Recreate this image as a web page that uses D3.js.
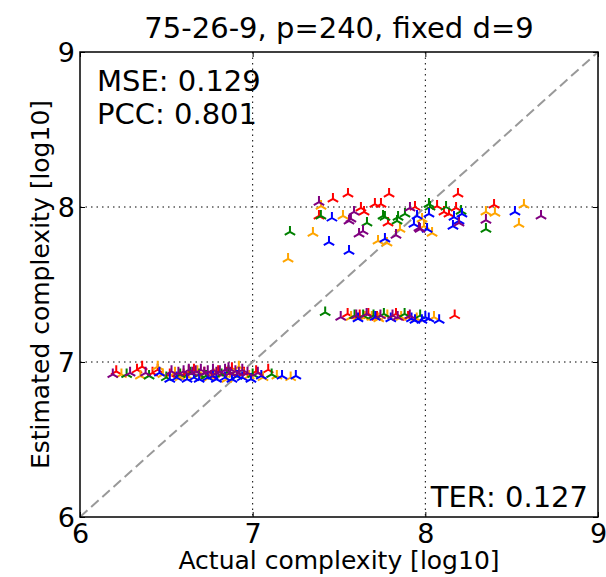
<!DOCTYPE html>
<html>
<head>
<meta charset="utf-8">
<script src="https://cdn.jsdelivr.net/npm/d3@7"></script>
<style>
  body { margin: 0; background: #fff; }
  text { font-family: "DejaVu Sans", sans-serif; fill: #000; }
</style>
</head>
<body>
<svg id="chart"></svg>
<script>
// chart texts
const title = "75-26-9, p=240, fixed d=9";
const xLabel = "Actual complexity [log10]";
const yLabel = "Estimated complexity [log10]";
const xTicks = [6, 7, 8, 9];
const yTicks = [6, 7, 8, 9];
const statsTopLeft = ["MSE: 0.129", "PCC: 0.801"];
const statBottomRight = "TER: 0.127";

// points per colour, [actual, estimated]
const redPoints = [
  [6.21, 6.94], [6.33, 6.95], [6.36, 6.97], [6.42, 6.93], [6.52, 6.92], [6.60, 6.92], [6.66, 6.95],
  [6.72, 6.93], [6.76, 6.91], [6.80, 6.94], [6.88, 6.96], [6.95, 6.93], [7.02, 6.94], [7.09, 6.95],
  [6.45, 6.95], [6.63, 6.94], [6.85, 6.93],
  [7.55, 7.31], [7.62, 7.30], [7.67, 7.31], [7.72, 7.29], [7.83, 7.31], [7.90, 7.29], [8.17, 7.30],
  [7.465, 8.052], [7.552, 8.084], [7.790, 8.084], [8.189, 8.084], [8.398, 8.013], [7.384, 7.942],
  [7.627, 7.994], [7.645, 7.968], [7.708, 8.019], [7.743, 8.019], [7.784, 7.897], [7.940, 8.000],
  [8.068, 8.006], [8.108, 7.968], [8.137, 7.955], [8.178, 7.994]
];
const orangePoints = [
  [6.24, 6.92], [6.35, 6.91], [6.45, 6.97], [6.48, 6.92], [6.55, 6.93], [6.62, 6.91], [6.68, 6.94],
  [6.70, 6.90], [6.78, 6.92], [6.85, 6.89], [6.92, 6.97], [6.98, 6.91], [7.06, 6.90], [7.14, 6.91],
  [7.22, 6.90], [6.58, 6.90], [6.75, 6.90], [6.89, 6.92],
  [7.57, 7.29], [7.65, 7.29], [7.69, 7.29], [7.73, 7.28], [7.78, 7.30], [7.86, 7.29], [7.95, 7.28],
  [8.05, 7.29],
  [7.396, 8.006], [8.571, 8.013], [7.523, 7.942], [7.853, 7.858], [7.981, 7.923], [7.992, 7.877],
  [8.039, 7.832], [7.349, 7.832], [7.726, 7.781], [7.778, 7.768], [8.351, 7.968], [8.403, 7.961],
  [8.542, 7.890], [7.205, 7.665]
];
const greenPoints = [
  [6.27, 6.92], [6.40, 6.91], [6.50, 6.90], [6.58, 6.92], [6.64, 6.93], [6.73, 6.91], [6.82, 6.92],
  [6.86, 6.94], [6.91, 6.91], [7.00, 6.92], [7.11, 6.92], [6.69, 6.92],
  [7.42, 7.32], [7.59, 7.30], [7.64, 7.30], [7.70, 7.30], [7.76, 7.31], [7.88, 7.31], [7.97, 7.30],
  [7.395, 7.942], [7.662, 7.897], [7.755, 7.942], [7.766, 7.935], [7.842, 7.935], [7.836, 7.910],
  [7.882, 7.955], [8.021, 8.019], [8.027, 8.000], [8.120, 8.000], [8.207, 7.974], [8.351, 7.858],
  [7.216, 7.839]
];
const bluePoints = [
  [6.46, 6.93], [6.52, 6.89], [6.56, 6.90], [6.62, 6.89], [6.69, 6.89], [6.74, 6.90], [6.79, 6.89],
  [6.84, 6.90], [6.88, 6.89], [6.94, 6.90], [6.99, 6.89], [7.05, 6.91], [7.17, 6.91], [7.25, 6.91],
  [6.66, 6.90], [6.77, 6.91], [6.91, 6.91],
  [7.61, 7.28], [7.71, 7.29], [7.80, 7.28], [7.92, 7.28], [7.94, 7.27], [7.98, 7.27], [8.00, 7.29],
  [8.02, 7.28], [8.08, 7.27],
  [7.459, 7.929], [7.952, 7.942], [7.934, 7.890], [8.010, 7.858], [8.021, 7.955], [8.166, 7.935],
  [8.160, 7.877], [8.195, 7.910], [8.212, 7.955], [7.442, 7.774], [7.558, 7.716], [7.766, 7.794],
  [8.519, 7.968]
];
const purplePoints = [
  [6.19, 6.92], [6.29, 6.93], [6.38, 6.93], [6.53, 6.94], [6.57, 6.93], [6.60, 6.94], [6.63, 6.95],
  [6.67, 6.94], [6.70, 6.95], [6.74, 6.94], [6.77, 6.95], [6.81, 6.94], [6.84, 6.95], [6.87, 6.93],
  [6.90, 6.94], [6.94, 6.95], [6.97, 6.93], [7.03, 6.93], [6.65, 6.93], [6.72, 6.93], [6.79, 6.93],
  [6.86, 6.96], [6.92, 6.93],
  [7.51, 7.29], [7.60, 7.30], [7.66, 7.31], [7.74, 7.30], [7.81, 7.30], [7.84, 7.29], [7.91, 7.30],
  [7.384, 8.032], [7.569, 7.923], [7.587, 7.968], [7.558, 7.910], [7.911, 7.994], [7.963, 7.865],
  [7.969, 7.858], [8.195, 7.897], [7.616, 7.826], [7.639, 7.845], [7.830, 7.819], [8.351, 7.916],
  [8.670, 7.942]
];

const series = [
  { color: "#ff0000", points: redPoints },
  { color: "#ffa500", points: orangePoints },
  { color: "#008000", points: greenPoints },
  { color: "#0000ff", points: bluePoints },
  { color: "#800080", points: purplePoints }
];

const width = 606, height = 577;
const margin = { top: 52, right: 8, bottom: 60, left: 80 };
const innerWidth = width - margin.left - margin.right;
const innerHeight = height - margin.top - margin.bottom;

const svg = d3.select("#chart").attr("width", width).attr("height", height);

const x = d3.scaleLinear().domain([6, 9]).range([0, innerWidth]);
const y = d3.scaleLinear().domain([6, 9]).range([innerHeight, 0]);

const g = svg.append("g").attr("transform", `translate(${margin.left},${margin.top})`);

// dotted grid at inner ticks
g.selectAll(".gx").data(xTicks.slice(1, -1)).enter().append("line")
  .attr("x1", d => x(d)).attr("x2", d => x(d))
  .attr("y1", 0).attr("y2", innerHeight)
  .attr("stroke", "#000").attr("stroke-width", 1).attr("stroke-dasharray", "1.5,4");
g.selectAll(".gy").data(yTicks.slice(1, -1)).enter().append("line")
  .attr("y1", d => y(d)).attr("y2", d => y(d))
  .attr("x1", 0).attr("x2", innerWidth)
  .attr("stroke", "#000").attr("stroke-width", 1).attr("stroke-dasharray", "1.5,4");

// diagonal
g.append("line")
  .attr("x1", x(6)).attr("y1", y(6)).attr("x2", x(9)).attr("y2", y(9))
  .attr("stroke", "#999").attr("stroke-width", 2).attr("stroke-dasharray", "10,5");

// tri_up markers
const tri = "M0,0L0,-6M0,0L-5.2,3M0,0L5.2,3";
series.forEach(s => {
  g.append("g").selectAll("path").data(s.points).enter().append("path")
    .attr("d", tri)
    .attr("transform", d => `translate(${x(d[0])},${y(d[1])})`)
    .attr("fill", "none")
    .attr("stroke", s.color)
    .attr("stroke-width", 2);
});

// axes with inward ticks
const xAxis = g.append("g").attr("transform", `translate(0,${innerHeight})`)
  .call(d3.axisBottom(x).tickValues(xTicks).tickSize(-5).tickPadding(6).tickFormat(d3.format("d")));
const yAxis = g.append("g")
  .call(d3.axisLeft(y).tickValues(yTicks).tickSize(-5).tickPadding(5).tickFormat(d3.format("d")));
g.append("g").call(d3.axisTop(x).tickValues(xTicks).tickSize(-5).tickFormat(""));
g.append("g").attr("transform", `translate(${innerWidth},0)`)
  .call(d3.axisRight(y).tickValues(yTicks).tickSize(-5).tickFormat(""));
g.selectAll(".domain").remove();
g.selectAll(".tick line").attr("stroke", "#000").attr("stroke-width", 1);
xAxis.selectAll("text").style("font-size", "27px").attr("dy", "0.75em");
yAxis.selectAll("text").style("font-size", "27px").attr("dy", "0.36em");

// frame
g.append("rect")
  .attr("width", innerWidth).attr("height", innerHeight)
  .attr("fill", "none").attr("stroke", "#000").attr("stroke-width", 1.5);

// title and labels
svg.append("text")
  .attr("x", margin.left + innerWidth / 2).attr("y", 38)
  .attr("text-anchor", "middle").style("font-size", "29px")
  .text(title);
svg.append("text")
  .attr("x", margin.left + innerWidth / 2).attr("y", 569)
  .attr("text-anchor", "middle").style("font-size", "25px")
  .text(xLabel);
svg.append("text")
  .attr("transform", `translate(49,${margin.top + innerHeight / 2}) rotate(-90)`)
  .attr("text-anchor", "middle").style("font-size", "25px")
  .text(yLabel);

// stats
statsTopLeft.forEach((t, i) => {
  svg.append("text")
    .attr("x", margin.left + 17).attr("y", margin.top + 39 + i * 33)
    .style("font-size", "29px").text(t);
});
svg.append("text")
  .attr("x", margin.left + innerWidth - 10).attr("y", margin.top + innerHeight - 10)
  .attr("text-anchor", "end").style("font-size", "29px")
  .text(statBottomRight);
</script>
</body>
</html>
